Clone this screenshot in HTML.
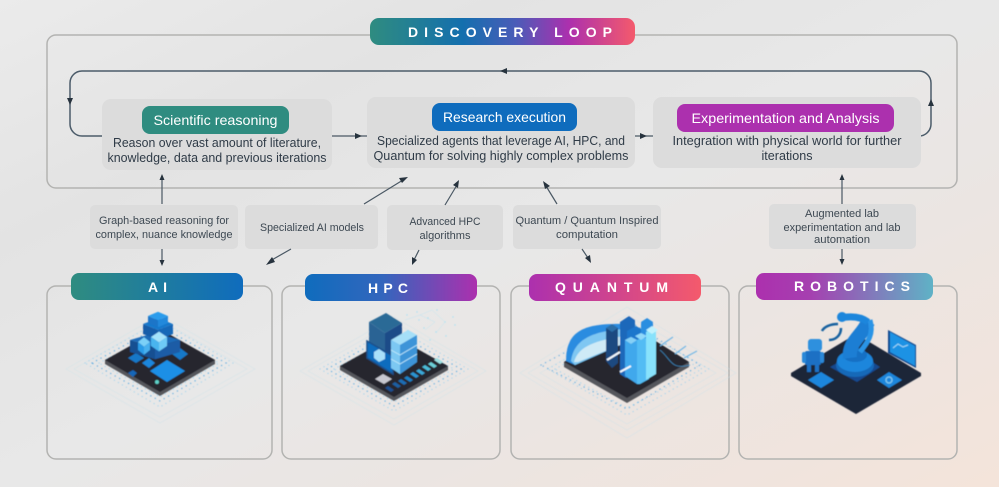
<!DOCTYPE html>
<html><head><meta charset="utf-8"><style>
html,body{margin:0;padding:0;width:999px;height:487px;overflow:hidden;background:#e8e8e8}
svg{display:block}
text{font-family:"Liberation Sans",sans-serif}
.t{fill:#2f3b47;font-size:12.5px;text-anchor:middle}
.s{fill:#3d4852;font-size:10.8px;text-anchor:middle}
.p{fill:#fff;font-size:14px;text-anchor:middle}
.h{fill:#fff;font-size:14px;font-weight:bold;text-anchor:middle}
.box{fill:#dcdcdc}
.fr{fill:none;stroke:#b3b3b1;stroke-width:1.5}
.ln{fill:none;stroke:#4a5864;stroke-width:1.2}
.lp{fill:none;stroke:#4c5c6a;stroke-width:1.5}
.ah{fill:#27333e}
.ring{fill:none;stroke:#cfe3e8;stroke-width:.6;opacity:.7}
.dot{fill:none;stroke:#4fa5e0;stroke-width:1.2;stroke-linecap:round;stroke-dasharray:.1 5}
.dot2{fill:none;stroke:#8ccdf0;stroke-width:1;stroke-linecap:round;stroke-dasharray:.1 4.500}
.c1{fill:var(--t)}.c2{fill:var(--l)}.c3{fill:var(--r)}
</style></head><body>
<svg width="999" height="487" viewBox="0 0 999 487" xmlns="http://www.w3.org/2000/svg">
<defs>
<linearGradient id="bg" x1="0" y1="0" x2="1" y2="1"><stop offset="0" stop-color="#ebebeb"/><stop offset=".25" stop-color="#e3e3e3"/><stop offset=".5" stop-color="#e8e8e8"/><stop offset=".7" stop-color="#ebe5e2"/><stop offset="1" stop-color="#f4e4da"/></linearGradient>
<linearGradient id="gd"><stop offset="0" stop-color="#2f8c80"/><stop offset=".35" stop-color="#146fae"/><stop offset=".55" stop-color="#4a5cb8"/><stop offset=".75" stop-color="#ac30ae"/><stop offset="1" stop-color="#f45a6c"/></linearGradient>
<linearGradient id="ga"><stop offset="0" stop-color="#2f8c80"/><stop offset="1" stop-color="#0f6cbd"/></linearGradient>
<linearGradient id="gh"><stop offset="0" stop-color="#0f6cbd"/><stop offset=".45" stop-color="#3366bd"/><stop offset="1" stop-color="#ac30ae"/></linearGradient>
<linearGradient id="gq"><stop offset="0" stop-color="#ac30ae"/><stop offset="1" stop-color="#f45a6c"/></linearGradient>
<linearGradient id="gr"><stop offset="0" stop-color="#ac30ae"/><stop offset=".3" stop-color="#a63fb0"/><stop offset="1" stop-color="#5fb2c6"/></linearGradient>
<g id="cube"><polygon class="c1" points="0,-6 10,0 0,6 -10,0"/><polygon class="c2" points="-10,0 0,6 0,16 -10,10"/><polygon class="c3" points="10,0 0,6 0,16 10,10"/></g>
<filter id="soft" x="-5%" y="-5%" width="110%" height="110%"><feGaussianBlur stdDeviation=".4"/></filter>
</defs>
<rect width="999" height="487" fill="url(#bg)"/>

<!-- Frames -->
<path class="fr" d="M370,35H56a9,9 0 0 0-9,9V179a9,9 0 0 0 9,9H948a9,9 0 0 0 9-9V44a9,9 0 0 0-9-9H635"/>
<path class="fr" d="M71,286H56a9,9 0 0 0-9,9V450a9,9 0 0 0 9,9H263a9,9 0 0 0 9-9V295a9,9 0 0 0-9-9H243"/>
<path class="fr" d="M305,286H291a9,9 0 0 0-9,9V450a9,9 0 0 0 9,9H491a9,9 0 0 0 9-9V295a9,9 0 0 0-9-9H477"/>
<path class="fr" d="M529,286H520a9,9 0 0 0-9,9V450a9,9 0 0 0 9,9H720a9,9 0 0 0 9-9V295a9,9 0 0 0-9-9H701"/>
<path class="fr" d="M756,286H748a9,9 0 0 0-9,9V450a9,9 0 0 0 9,9H948a9,9 0 0 0 9-9V295a9,9 0 0 0-9-9H933"/>

<!-- Loop -->
<path class="lp" d="M102,136H82a12,12 0 0 1-12-12V83a12,12 0 0 1 12-12H919a12,12 0 0 1 12,12V124a12,12 0 0 1-12,12H921"/>
<polygon class="ah" points="500,71 507,68 507,74"/>
<polygon class="ah" points="70,105 67,98 73,98"/>
<polygon class="ah" points="931,99 928,106 934,106"/>
<path class="ln" d="M332,136H367M635,136H653"/>
<polygon class="ah" points="362,136 355,133 355,139"/>
<polygon class="ah" points="647,136 640,133 640,139"/>

<!-- Main boxes -->
<rect class="box" x="102" y="99" width="230" height="71" rx="9"/>
<rect class="box" x="367" y="97" width="268" height="71" rx="9"/>
<rect class="box" x="653" y="97" width="268" height="71" rx="9"/>
<rect x="142" y="106" width="147" height="28" rx="8" fill="#2f8c80"/>
<rect x="432" y="103" width="145" height="28" rx="8" fill="#0f6cbd"/>
<rect x="677" y="104" width="217" height="28" rx="8" fill="#ac30ae"/>
<text class="p" x="215.500" y="125" textLength="124" lengthAdjust="spacingAndGlyphs">Scientific reasoning</text>
<text class="p" x="504.500" y="122" textLength="123" lengthAdjust="spacingAndGlyphs">Research execution</text>
<text class="p" x="785.500" y="123" textLength="188" lengthAdjust="spacingAndGlyphs">Experimentation and Analysis</text>
<text class="t" x="217" y="147" textLength="208" lengthAdjust="spacingAndGlyphs">Reason over vast amount of literature,</text>
<text class="t" x="217" y="162" textLength="219" lengthAdjust="spacingAndGlyphs">knowledge, data and previous iterations</text>
<text class="t" x="501" y="145" textLength="248" lengthAdjust="spacingAndGlyphs">Specialized agents that leverage AI, HPC, and</text>
<text class="t" x="501" y="160" textLength="255" lengthAdjust="spacingAndGlyphs">Quantum for solving highly complex problems</text>
<text class="t" x="787" y="145" textLength="229" lengthAdjust="spacingAndGlyphs">Integration with physical world for further</text>
<text class="t" x="787" y="160" textLength="51" lengthAdjust="spacingAndGlyphs">iterations</text>

<!-- Discovery pill -->
<rect x="370" y="18" width="265" height="27" rx="9" fill="url(#gd)"/>
<text class="h" x="510" y="37" textLength="204">DISCOVERY LOOP</text>

<!-- Connector boxes -->
<rect class="box" x="90" y="205" width="148" height="44" rx="5"/>
<rect class="box" x="245" y="205" width="133" height="44" rx="5"/>
<rect class="box" x="387" y="205" width="116" height="45" rx="5"/>
<rect class="box" x="513" y="205" width="148" height="44" rx="5"/>
<rect class="box" x="769" y="204" width="147" height="45" rx="5"/>
<text class="s" x="164" y="224" textLength="130" lengthAdjust="spacingAndGlyphs">Graph-based reasoning for</text>
<text class="s" x="164" y="238" textLength="137" lengthAdjust="spacingAndGlyphs">complex, nuance knowledge</text>
<text class="s" x="312" y="231" textLength="104" lengthAdjust="spacingAndGlyphs">Specialized AI models</text>
<text class="s" x="445" y="225" textLength="71" lengthAdjust="spacingAndGlyphs">Advanced HPC</text>
<text class="s" x="445" y="239" textLength="51" lengthAdjust="spacingAndGlyphs">algorithms</text>
<text class="s" x="587" y="224" textLength="143" lengthAdjust="spacingAndGlyphs">Quantum / Quantum Inspired</text>
<text class="s" x="587" y="238" textLength="62" lengthAdjust="spacingAndGlyphs">computation</text>
<text class="s" x="842" y="217" textLength="74" lengthAdjust="spacingAndGlyphs">Augmented lab</text>
<text class="s" x="842" y="231" textLength="117" lengthAdjust="spacingAndGlyphs">experimentation and lab</text>
<text class="s" x="842" y="243" textLength="56" lengthAdjust="spacingAndGlyphs">automation</text>

<!-- Connector arrows -->
<path class="ln" d="M162,204V178M162,249V262M364,204L403,180M291,249L270,261M445,205L457,185M419,250L414,260M557,204L546,186M582,249L588,258M842,204V178M842,249V261"/>
<polygon class="ah" points="162,174 159.500,180 164.500,180"/>
<polygon class="ah" points="162,266 159.500,260 164.500,260"/>
<polygon class="ah" points="408,177 399,178 402,183"/>
<polygon class="ah" points="266,265 275,262 272,257"/>
<polygon class="ah" points="459,180 453,185 458,188"/>
<polygon class="ah" points="412,265 417,260 412,257"/>
<polygon class="ah" points="543,181 545,189 550,186"/>
<polygon class="ah" points="591,263 590,255 585,258"/>
<polygon class="ah" points="842,174 839.500,180 844.500,180"/>
<polygon class="ah" points="842,265 839.500,259 844.500,259"/>

<!-- Header pills -->
<rect x="71" y="273" width="172" height="27" rx="8" fill="url(#ga)"/>
<rect x="305" y="274" width="172" height="27" rx="8" fill="url(#gh)"/>
<rect x="529" y="274" width="172" height="27" rx="8" fill="url(#gq)"/>
<rect x="756" y="273" width="177" height="27" rx="8" fill="url(#gr)"/>
<text class="h" x="157.500" y="292" textLength="19">AI</text>
<text class="h" x="388" y="293" textLength="40">HPC</text>
<text class="h" x="611.500" y="292" textLength="113">QUANTUM</text>
<text class="h" x="852" y="291" textLength="116">ROBOTICS</text>

<g filter="url(#soft)">
<!-- AI illustration -->
<g>
<polygon class="ring" points="66,369 160,315 255,369 160,423"/>
<polygon class="ring" points="74,369 160,320 247,369 160,417"/>
<polygon class="dot2" points="85,363 160,321 233,363 160,407"/>
<polygon class="dot" points="92,363 160,326 226,363 160,401"/>
<polygon class="dot2" points="99,363 160,331 219,363 160,397"/>
<polygon points="105,360 160,330 215,360 215,364 160,396 105,364" fill="#55565c"/>
<polygon points="105,360 160,329 215,360 160,392" fill="#25252f"/>
<polygon points="150,371 167,360 185,371 167,382" fill="#1d8fe6"/>
<polygon points="142,363 149,358 155,363 149,368" fill="#1f86dc"/>
<polygon points="172,354 180,348 188,354 180,360" fill="#1878c8"/>
<polygon points="128,373 133,370 137,373 133,377" fill="#1466b8"/>
<polygon points="128,358 136,353 144,358 136,363" fill="#1878c8"/>
<use href="#cube" transform="translate(155,340) scale(2.500,1.200)" style="--t:#1f6bb8;--l:#154f92;--r:#1a5ca6"/>
<use href="#cube" transform="translate(158,324) scale(1.500,1)" style="--t:#1878cc;--l:#135ba8;--r:#1667b8"/>
<use href="#cube" transform="translate(158,316) scale(1,.7)" style="--t:#2a9cec;--l:#1a74c8;--r:#2189dc"/>
<use href="#cube" transform="translate(144,342) scale(.6,.8)" style="--t:#7cd0f8;--l:#2b9ce8;--r:#49b0ee"/>
<use href="#cube" transform="translate(159,337) scale(.8,.9)" style="--t:#a4e2fb;--l:#48b4ee;--r:#6ecaf6"/>
<circle cx="157" cy="382" r="2" fill="#5fd0c8"/>
</g>

<!-- HPC illustration -->
<g>
<polygon class="ring" points="300,371 394,317 486,371 394,425"/>
<polygon class="ring" points="308,371 394,322 478,371 394,419"/>
<polygon class="dot2" points="320,369 394,327 468,369 394,411"/>
<polygon class="dot" points="327,369 394,332 461,369 394,406"/>
<polygon class="dot2" points="334,369 394,337 454,369 394,402"/>
<polygon points="340,366 394,336 448,366 448,370 394,401 340,370" fill="#55565c"/>
<polygon points="340,366 394,336 448,366 394,397" fill="#25252f"/>
<polygon points="385,388 391,392 394,390 388,386" fill="#1d4f90"/><polygon points="392,384 398,388 401,386 395,382" fill="#1d5fa2"/><polygon points="398,381 404,385 407,383 401,379" fill="#1f6db4"/><polygon points="404,378 410,382 413,380 407,376" fill="#1f80c4"/><polygon points="410,374 416,378 419,376 413,372" fill="#2a94d2"/><polygon points="416,371 422,375 425,373 419,369" fill="#3aa8d8"/><polygon points="422,367 428,371 431,369 425,365" fill="#4cbcd8"/><polygon points="428,364 434,368 437,366 431,362" fill="#6ccfd8"/><polygon points="434,360 440,364 443,362 437,358" fill="#9cdfe2"/>
<polygon points="369,322 386,313 402,323 385,333" fill="#2c6a96"/>
<polygon points="369,322 385,333 385,358 369,348" fill="#2a6494"/>
<polygon points="385,333 402,323 402,348 385,358" fill="#1c4c88"/>
<polygon points="375,379 383,374 392,379 384,384" fill="#c8c8d0"/>
<polygon points="367,341 393,356 393,374 367,358" fill="#0f6cbd" stroke="#1a4f8a" stroke-width="1.500"/>
<polygon points="374,352 379,349 385,353 385,359 379,362 374,358" fill="#a8e0fa"/>
<polygon points="391,342 408,330 417,336 417,362 400,374 391,368" fill="#56b0e8"/>
<polygon points="391,340 400,345 417,335 408,330" fill="#a5dff8"/>
<polygon points="400,345 417,335 417,362 400,374" fill="#3d94d8"/>
<polygon points="391,340 400,345 400,374 391,368" fill="#7cc8f2"/>
<path d="M391,350L400,355L417,345M391,359L400,364L417,354" fill="none" stroke="#c0e8fb" stroke-width=".8"/>
<g fill="#a6e0f4"><circle cx="407" cy="315" r=".7"/><circle cx="417" cy="312" r=".7"/><circle cx="428" cy="318" r=".7"/><circle cx="437" cy="310" r=".7"/><circle cx="445" cy="322" r=".7"/><circle cx="424" cy="328" r=".7"/><circle cx="436" cy="332" r=".7"/><circle cx="453" cy="317" r=".7"/><circle cx="446" cy="336" r=".7"/><circle cx="419" cy="320" r=".7"/><circle cx="455" cy="325" r=".7"/><circle cx="430" cy="340" r=".7"/></g>
<path d="M405,320L420,315L435,322L425,330M420,315L432,310L445,322L436,333" fill="none" stroke="#b8e4f2" stroke-width=".4"/>
</g>

<!-- Quantum illustration -->
<g>
<polygon class="ring" points="520,373 627,307 736,373 627,438"/>
<polygon class="ring" points="528,373 627,315 728,373 627,430"/>
<polygon class="ring" points="540,373 627,323 716,373 627,424"/>
<polygon class="dot2" points="548,369 627,324 709,369 627,415"/>
<polygon class="dot" points="541,365 627,320 700,365 627,409"/>
<polygon class="dot2" points="555,369 627,330 702,369 627,408"/>
<polygon points="564,362 627,323 689,362 689,367 627,403 564,367" fill="#55565c"/>
<polygon points="564,362 627,323 689,362 627,398" fill="#25252f"/>
<path d="M566,361C566,330 585,323 625,324L620,345L575,365Z" fill="#2a8ce0"/>
<path d="M571,361C574,338 595,331 625,329L620,345L575,365Z" fill="#7fc7f2"/>
<path d="M574,362C578,346 597,340 625,336L620,345L578,362Z" fill="#cfeaf6"/>
<polygon points="606,328 612,325 618,328 618,363 612,368 606,361" fill="#1e4a80"/>
<polygon points="606,328 612,324 618,328 612,332" fill="#2c6ea8"/>
<polygon points="620,322 629,316 635,320 635,372 626,378 620,374" fill="#1a68ba"/>
<polygon points="627,331 636,326 643,330 643,372 636,376 627,372" fill="#1a76cc"/>
<polygon points="641,322 647,318 653,322 653,370 647,374 641,370" fill="#2a8ee0"/>
<polygon points="625,340 631,337 637,340 637,384 631,380 625,376" fill="#3fa8ec"/>
<polygon points="625,340 631,337 637,340 631,344" fill="#86d0f6"/>
<polygon points="637,340 643,337 649,340 649,379 640,384 637,384" fill="#52bcf4"/>
<polygon points="635,336 641,333 647,336 641,340" fill="#90d8fa"/>
<polygon points="646,332 652,328 656,332 656,374 646,380" fill="#88e2fc"/>
<polygon points="646,330 652,326 658,330 652,334" fill="#c0f2fe"/>
<path d="M607,360L620,352M620,372L631,366" stroke="#f4fafe" stroke-width="2" fill="none"/>
<path d="M660,346L673,337M675,354L686,346M684,358L697,351" stroke="#6fb6e6" stroke-width="1.200" fill="none"/>
<path d="M660,350C672,360 670,370 690,365" stroke="#3d8ac0" stroke-width=".7" fill="none"/>
</g>

<!-- Robotics illustration -->
<g>
<polygon points="791,373 856,334 921,373 921,376 856,414 791,376" fill="#1e2638"/>
<polygon points="808,380 821,372 834,380 821,388" fill="#1b86dc"/>
<polygon points="877,380 889,372 902,380 889,388" fill="#1b86dc"/>
<circle cx="889" cy="380" r="3" fill="none" stroke="#7cc4ee" stroke-width="1.500"/>
<polygon points="830,367 857,352 880,367 857,382" fill="#134a90"/>
<ellipse cx="855" cy="365" rx="19" ry="12" fill="#1469b8"/>
<ellipse cx="855" cy="361" rx="18" ry="11" fill="#1f86dc"/>
<ellipse cx="855" cy="355" rx="12" ry="7" fill="#1670c4"/>
<path d="M850,358C848,342 862,336 868,322" fill="none" stroke="#1b7ed4" stroke-width="14"/>
<path d="M860,352C868,342 874,334 870,320" fill="none" stroke="#2b94e6" stroke-width="5"/>
<path d="M868,322C860,316 850,316 840,318" fill="none" stroke="#1f86dc" stroke-width="7"/>
<circle cx="842" cy="317" r="5" fill="#1f86dc"/>
<path d="M838,324C830,324 824,327 822,331M841,328C841,336 835,340 829,340" fill="none" stroke="#14609f" stroke-width="2.500"/>
<rect x="808" y="339" width="14" height="12" rx="3" fill="#2f90de"/>
<rect x="805" y="351" width="16" height="14" rx="2" fill="#1a70c4"/>
<rect x="802" y="352" width="4" height="11" rx="2" fill="#2a88d8"/>
<rect x="820" y="352" width="4" height="11" rx="2" fill="#2a88d8"/>
<rect x="807" y="364" width="4" height="8" fill="#1a70c4"/>
<rect x="815" y="364" width="4" height="8" fill="#1a70c4"/>
<polygon points="888,330 916,345 916,368 888,353" fill="#134a90"/>
<polygon points="890,332 915,346 915,366 890,352" fill="#1f92e4"/>
<path d="M893,348L898,344L903,347L908,345" fill="none" stroke="#a6dcf6" stroke-width="1"/>
</g>
</g>
</svg>
</body></html>
